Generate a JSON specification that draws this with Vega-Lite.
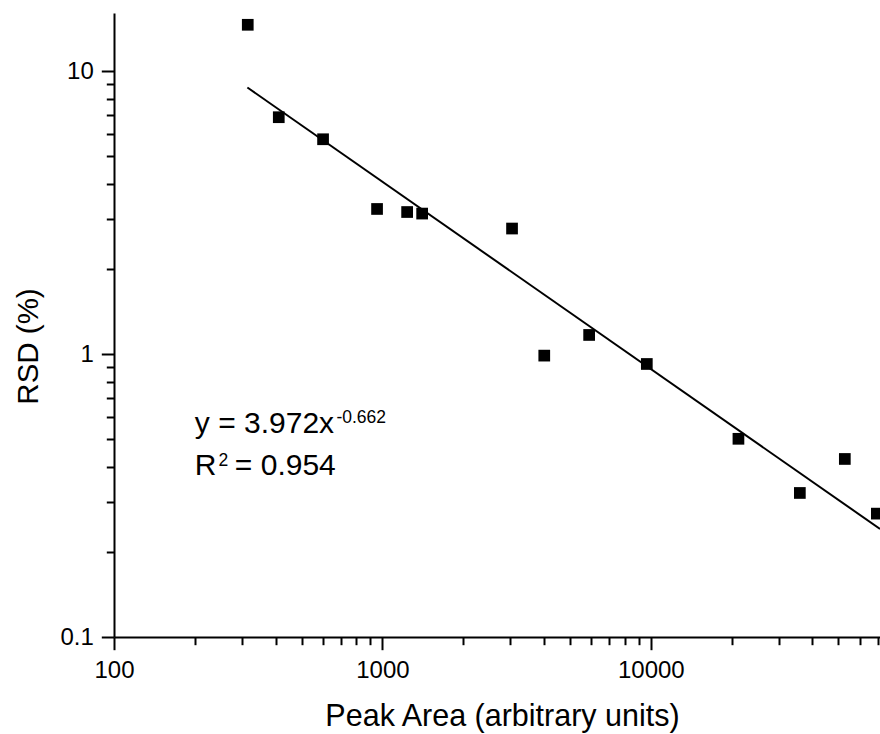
{
  "$schema": "https://vega.github.io/schema/vega-lite/v6.json",
  "autosize": {"type": "none"},
  "padding": {"left": 114, "top": 13, "right": 0, "bottom": 97},
  "width": 766,
  "height": 624,
  "background": "white",
  "config": {
    "view": {"stroke": null},
    "font": "Liberation Sans",
    "axis": {"grid": false, "domainColor": "black", "domainWidth": 2, "tickColor": "black", "tickWidth": 2, "labelColor": "black", "titleColor": "black", "labelFont": "Liberation Sans", "titleFont": "Liberation Sans", "titleFontWeight": "normal"}
  },
  "datasets": {
    "points": [
      {"area": 315, "rsd": 14.6},
      {"area": 411, "rsd": 6.88},
      {"area": 601, "rsd": 5.75},
      {"area": 955, "rsd": 3.26},
      {"area": 1236, "rsd": 3.18},
      {"area": 1406, "rsd": 3.14},
      {"area": 3040, "rsd": 2.78},
      {"area": 4008, "rsd": 0.988},
      {"area": 5890, "rsd": 1.169},
      {"area": 9660, "rsd": 0.923},
      {"area": 21200, "rsd": 0.502},
      {"area": 35900, "rsd": 0.323},
      {"area": 52800, "rsd": 0.426},
      {"area": 69500, "rsd": 0.273}
    ],
    "fit": [
      {"area": 314, "rsd": 8.76},
      {"area": 71400, "rsd": 0.241}
    ],
    "mainText": [
      {"area": 200, "rsd": 0.527, "text": "y = 3.972x"},
      {"area": 200, "rsd": 0.3745, "text": "R"},
      {"area": 282, "rsd": 0.3745, "text": "= 0.954"}
    ],
    "supText": [
      {"area": 674, "rsd": 0.571, "text": "-0.662"},
      {"area": 245, "rsd": 0.403, "text": "2"}
    ]
  },
  "layer": [
    {
      "data": {"name": "points"},
      "mark": {"type": "point", "shape": "square", "filled": true, "color": "black", "size": 137, "opacity": 1},
      "encoding": {
        "x": {
          "field": "area", "type": "quantitative",
          "scale": {"type": "log", "domain": [100, 71400], "nice": false, "zero": false},
          "axis": {
            "title": "Peak Area (arbitrary units)",
            "titleFontSize": 30.5,
            "titleBaseline": "alphabetic",
            "titleY": 88,
            "titleX": 388,
            "values": [100, 200, 300, 400, 500, 600, 700, 800, 900, 1000, 2000, 3000, 4000, 5000, 6000, 7000, 8000, 9000, 10000, 20000, 30000, 40000, 50000, 60000, 70000],
            "labelExpr": "datum.value == 100 ? '100' : datum.value == 1000 ? '1000' : datum.value == 10000 ? '10000' : ''",
            "labelFontSize": 24,
            "labelPadding": 9,
            "labelFlush": false,
            "labelOverlap": false,
            "tickSize": {"condition": {"test": "datum.value == 100 || datum.value == 1000 || datum.value == 10000", "value": 12.7}, "value": 7.7}
          }
        },
        "y": {
          "field": "rsd", "type": "quantitative",
          "scale": {"type": "log", "domain": [0.1, 16.07], "nice": false, "zero": false},
          "axis": {
            "title": "RSD (%)",
            "titleFontSize": 29.5,
            "titleX": -71,
            "titleY": 333,
            "values": [0.1, 0.2, 0.3, 0.4, 0.5, 0.6, 0.7, 0.8, 0.9, 1, 2, 3, 4, 5, 6, 7, 8, 9, 10],
            "labelExpr": "datum.value == 0.1 ? '0.1' : datum.value == 1 ? '1' : datum.value == 10 ? '10' : ''",
            "labelFontSize": 24,
            "labelPadding": 8,
            "labelFlush": false,
            "labelOverlap": false,
            "tickSize": {"condition": {"test": "datum.value == 0.1 || datum.value == 1 || datum.value == 10", "value": 12.7}, "value": 7.7}
          }
        }
      }
    },
    {
      "data": {"name": "fit"},
      "mark": {"type": "line", "color": "black", "strokeWidth": 2},
      "encoding": {
        "x": {"field": "area", "type": "quantitative"},
        "y": {"field": "rsd", "type": "quantitative"}
      }
    },
    {
      "data": {"name": "mainText"},
      "mark": {"type": "text", "align": "left", "baseline": "alphabetic", "fontSize": 30, "font": "Liberation Sans", "color": "black"},
      "encoding": {
        "x": {"field": "area", "type": "quantitative"},
        "y": {"field": "rsd", "type": "quantitative"},
        "text": {"field": "text"}
      }
    },
    {
      "data": {"name": "supText"},
      "mark": {"type": "text", "align": "left", "baseline": "alphabetic", "fontSize": 17.5, "font": "Liberation Sans", "color": "black"},
      "encoding": {
        "x": {"field": "area", "type": "quantitative"},
        "y": {"field": "rsd", "type": "quantitative"},
        "text": {"field": "text"}
      }
    }
  ]
}
